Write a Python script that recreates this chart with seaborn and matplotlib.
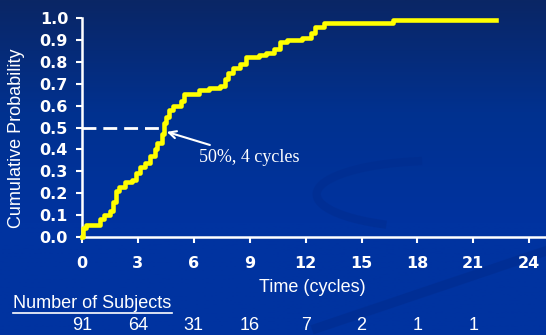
import numpy as np
import pandas as pd
import seaborn as sns
import matplotlib.pyplot as plt
from matplotlib.colors import LinearSegmentedColormap

# step points of the cumulative curve (time in cycles, cumulative probability)
time_cycles = [0, 0.05, 0.2, 0.97, 1.2, 1.5, 1.65, 1.8, 2.0, 2.3, 2.7, 2.9, 3.1,
               3.4, 3.65, 3.9, 4.05, 4.3, 4.4, 4.5, 4.65, 4.9, 5.3, 5.5, 6.3,
               6.8, 7.4, 7.7, 7.85, 8.1, 8.5, 8.8, 9.5, 9.9, 10.3, 10.6, 11.0,
               11.8, 12.3, 12.5, 13.0, 16.7, 22.2]
cum_prob = [0, 0.04, 0.055, 0.08, 0.10, 0.12, 0.16, 0.21, 0.23, 0.25, 0.26, 0.29,
            0.32, 0.34, 0.37, 0.40, 0.43, 0.47, 0.52, 0.55, 0.58, 0.60, 0.62,
            0.655, 0.67, 0.68, 0.69, 0.72, 0.75, 0.77, 0.79, 0.82, 0.83, 0.84,
            0.86, 0.89, 0.90, 0.91, 0.93, 0.96, 0.975, 0.99, 0.99]

x_ticks = [0, 3, 6, 9, 12, 15, 18, 21, 24]
y_ticks = [0.0, 0.1, 0.2, 0.3, 0.4, 0.5, 0.6, 0.7, 0.8, 0.9, 1.0]
risk_times = [0, 3, 6, 9, 12, 15, 18, 21]
n_subjects = [91, 64, 31, 16, 7, 2, 1, 1]

df = pd.DataFrame({'time': time_cycles, 'prob': cum_prob})

W, H = 546, 335
fig = plt.figure(figsize=(W / 100, H / 100), dpi=100)

# background gradient
bg = fig.add_axes([0, 0, 1, 1])
cmap = LinearSegmentedColormap.from_list('bg', ['#0a2665', '#01318f', '#0033a0', '#0033a0'])
bg.imshow(np.linspace(0, 1, 256).reshape(-1, 1), aspect='auto', cmap=cmap,
          extent=[0, 1, 0, 1], origin='upper')
# faint swoosh decoration, lower right
sx = np.linspace(0.58, 1.0, 200)
bg.plot(sx, 0.02 + 0.55 * (sx - 0.58), color='#002b8c', lw=7, alpha=0.5)
ang = np.linspace(0.55 * np.pi, 1.35 * np.pi, 200)
bg.plot(0.80 + 0.22 * np.cos(ang), 0.42 + 0.10 * np.sin(ang), color='#002b8c',
        lw=6, alpha=0.45)
bg.set_xlim(0, 1)
bg.set_ylim(0, 1)
bg.axis('off')

ax = fig.add_axes([82 / W, (H - 237) / H, (W - 82) / W, 219 / H])
ax.patch.set_alpha(0)

sns.lineplot(data=df, x='time', y='prob', ax=ax, color='#ffff00', lw=3.3,
             drawstyle='steps-post', clip_on=False, zorder=3)

# 50% reference
ax.plot([0, 4.3], [0.5, 0.5], color='white', lw=2, dashes=(5, 2.5), zorder=2)
ax.annotate('50%, 4 cycles', xy=(4.55, 0.48), xytext=(6.3, 0.365),
            color='white', fontsize=13, family='Liberation Serif',
            ha='left', va='center',
            arrowprops=dict(arrowstyle='->', color='white', lw=1.5,
                            shrinkA=2, shrinkB=0))

ax.set_xlim(0, 24.9)
ax.set_ylim(0, 1.0)
ax.set_xticks(x_ticks)
ax.set_yticks(y_ticks)
ax.set_xticklabels([str(t) for t in x_ticks])
ax.set_yticklabels(['%.1f' % v for v in y_ticks])
for lab in ax.get_xticklabels() + ax.get_yticklabels():
    lab.set_fontweight('heavy')
    lab.set_fontsize(11.5)
    lab.set_color('white')
ax.tick_params(colors='white', length=4, width=1.5)
ax.tick_params(axis='x', pad=10)
ax.tick_params(axis='y', pad=6)
for s in ['top', 'right']:
    ax.spines[s].set_visible(False)
for s in ['left', 'bottom']:
    ax.spines[s].set_color('white')
    ax.spines[s].set_linewidth(1.8)
ax.set_xlabel('')
ax.set_ylabel('')

fig.text(312 / W, 1 - 288 / H, 'Time (cycles)', color='white', fontsize=13,
         family='Liberation Sans', ha='center', va='center')
fig.text(17 / W, 1 - 138 / H, 'Cumulative Probability', color='white', fontsize=13,
         family='Liberation Sans', ha='center', va='center', rotation=90)

# number at risk row
fig.text(13 / W, 1 - 304 / H, 'Number of Subjects', color='white', fontsize=13,
         family='Liberation Sans', ha='left', va='center')
fig.add_artist(plt.Line2D([13 / W, 172 / W], [1 - 313 / H, 1 - 313 / H],
                          color='white', lw=1.2))
for tt, n in zip(risk_times, n_subjects):
    ax.text(tt, -0.403, str(n), color='white', fontsize=13,
            family='Liberation Sans', ha='center', va='center', clip_on=False)

fig.savefig('out.png', dpi=100, facecolor=fig.get_facecolor())
